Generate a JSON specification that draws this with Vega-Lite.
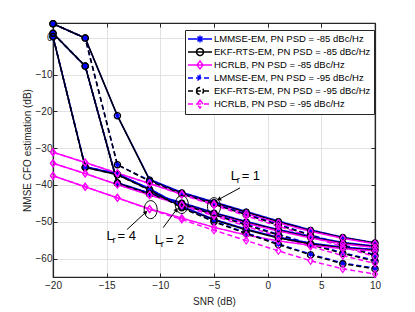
{
"$schema": "https://vega.github.io/schema/vega-lite/v6.json",
"width": 322, "height": 254,
"autosize": {"type": "none"},
"padding": {"left": 53, "top": 23, "right": 40, "bottom": 35},
"background": "white",
"config": {
  "view": {"stroke": "#262626", "strokeWidth": 1.2},
  "font": "Liberation Sans",
  "axis": {"domainColor": "#262626", "domainWidth": 1.2, "tickColor": "#262626", "tickSize": -4, "tickWidth": 1, "labelColor": "#262626", "labelFontSize": 10, "titleColor": "#262626", "titleFontSize": 10, "titleFontWeight": "normal", "gridColor": "#e2e2e2", "gridWidth": 1, "labelFlush": false}
},
"datasets": {
"series": [
{"s":"LMMSE-EM, PN PSD = -85 dBc/Hz","lr":1,"snr":-20,"nmse":3.8},{"s":"LMMSE-EM, PN PSD = -85 dBc/Hz","lr":1,"snr":-17,"nmse":-0.1},{"s":"LMMSE-EM, PN PSD = -85 dBc/Hz","lr":1,"snr":-14,"nmse":-21.2},{"s":"LMMSE-EM, PN PSD = -85 dBc/Hz","lr":1,"snr":-11,"nmse":-38.5},{"s":"LMMSE-EM, PN PSD = -85 dBc/Hz","lr":1,"snr":-8,"nmse":-42.0},{"s":"LMMSE-EM, PN PSD = -85 dBc/Hz","lr":1,"snr":-5,"nmse":-44.6},{"s":"LMMSE-EM, PN PSD = -85 dBc/Hz","lr":1,"snr":-2,"nmse":-47.2},{"s":"LMMSE-EM, PN PSD = -85 dBc/Hz","lr":1,"snr":1,"nmse":-49.8},{"s":"LMMSE-EM, PN PSD = -85 dBc/Hz","lr":1,"snr":4,"nmse":-52.2},{"s":"LMMSE-EM, PN PSD = -85 dBc/Hz","lr":1,"snr":7,"nmse":-54.2},{"s":"LMMSE-EM, PN PSD = -85 dBc/Hz","lr":1,"snr":10,"nmse":-55.7},
{"s":"EKF-RTS-EM, PN PSD = -85 dBc/Hz","lr":1,"snr":-20,"nmse":3.8},{"s":"EKF-RTS-EM, PN PSD = -85 dBc/Hz","lr":1,"snr":-17,"nmse":-0.1},{"s":"EKF-RTS-EM, PN PSD = -85 dBc/Hz","lr":1,"snr":-14,"nmse":-21.2},{"s":"EKF-RTS-EM, PN PSD = -85 dBc/Hz","lr":1,"snr":-11,"nmse":-38.7},{"s":"EKF-RTS-EM, PN PSD = -85 dBc/Hz","lr":1,"snr":-8,"nmse":-42.2},{"s":"EKF-RTS-EM, PN PSD = -85 dBc/Hz","lr":1,"snr":-5,"nmse":-44.8},{"s":"EKF-RTS-EM, PN PSD = -85 dBc/Hz","lr":1,"snr":-2,"nmse":-47.4},{"s":"EKF-RTS-EM, PN PSD = -85 dBc/Hz","lr":1,"snr":1,"nmse":-50.0},{"s":"EKF-RTS-EM, PN PSD = -85 dBc/Hz","lr":1,"snr":4,"nmse":-52.4},{"s":"EKF-RTS-EM, PN PSD = -85 dBc/Hz","lr":1,"snr":7,"nmse":-54.3},{"s":"EKF-RTS-EM, PN PSD = -85 dBc/Hz","lr":1,"snr":10,"nmse":-55.8},
{"s":"HCRLB, PN PSD = -85 dBc/Hz","lr":1,"snr":-20,"nmse":-31.1},{"s":"HCRLB, PN PSD = -85 dBc/Hz","lr":1,"snr":-17,"nmse":-33.9},{"s":"HCRLB, PN PSD = -85 dBc/Hz","lr":1,"snr":-14,"nmse":-36.8},{"s":"HCRLB, PN PSD = -85 dBc/Hz","lr":1,"snr":-11,"nmse":-39.6},{"s":"HCRLB, PN PSD = -85 dBc/Hz","lr":1,"snr":-8,"nmse":-42.5},{"s":"HCRLB, PN PSD = -85 dBc/Hz","lr":1,"snr":-5,"nmse":-45.2},{"s":"HCRLB, PN PSD = -85 dBc/Hz","lr":1,"snr":-2,"nmse":-47.8},{"s":"HCRLB, PN PSD = -85 dBc/Hz","lr":1,"snr":1,"nmse":-50.3},{"s":"HCRLB, PN PSD = -85 dBc/Hz","lr":1,"snr":4,"nmse":-52.6},{"s":"HCRLB, PN PSD = -85 dBc/Hz","lr":1,"snr":7,"nmse":-54.5},{"s":"HCRLB, PN PSD = -85 dBc/Hz","lr":1,"snr":10,"nmse":-56.0},
{"s":"LMMSE-EM, PN PSD = -95 dBc/Hz","lr":1,"snr":-20,"nmse":3.8},{"s":"LMMSE-EM, PN PSD = -95 dBc/Hz","lr":1,"snr":-17,"nmse":-0.1},{"s":"LMMSE-EM, PN PSD = -95 dBc/Hz","lr":1,"snr":-14,"nmse":-34.5},{"s":"LMMSE-EM, PN PSD = -95 dBc/Hz","lr":1,"snr":-11,"nmse":-38.8},{"s":"LMMSE-EM, PN PSD = -95 dBc/Hz","lr":1,"snr":-8,"nmse":-42.2},{"s":"LMMSE-EM, PN PSD = -95 dBc/Hz","lr":1,"snr":-5,"nmse":-45.0},{"s":"LMMSE-EM, PN PSD = -95 dBc/Hz","lr":1,"snr":-2,"nmse":-47.9},{"s":"LMMSE-EM, PN PSD = -95 dBc/Hz","lr":1,"snr":1,"nmse":-50.7},{"s":"LMMSE-EM, PN PSD = -95 dBc/Hz","lr":1,"snr":4,"nmse":-53.5},{"s":"LMMSE-EM, PN PSD = -95 dBc/Hz","lr":1,"snr":7,"nmse":-56.2},{"s":"LMMSE-EM, PN PSD = -95 dBc/Hz","lr":1,"snr":10,"nmse":-59.0},
{"s":"EKF-RTS-EM, PN PSD = -95 dBc/Hz","lr":1,"snr":-20,"nmse":3.8},{"s":"EKF-RTS-EM, PN PSD = -95 dBc/Hz","lr":1,"snr":-17,"nmse":-0.1},{"s":"EKF-RTS-EM, PN PSD = -95 dBc/Hz","lr":1,"snr":-14,"nmse":-34.5},{"s":"EKF-RTS-EM, PN PSD = -95 dBc/Hz","lr":1,"snr":-11,"nmse":-39.0},{"s":"EKF-RTS-EM, PN PSD = -95 dBc/Hz","lr":1,"snr":-8,"nmse":-42.4},{"s":"EKF-RTS-EM, PN PSD = -95 dBc/Hz","lr":1,"snr":-5,"nmse":-45.2},{"s":"EKF-RTS-EM, PN PSD = -95 dBc/Hz","lr":1,"snr":-2,"nmse":-48.1},{"s":"EKF-RTS-EM, PN PSD = -95 dBc/Hz","lr":1,"snr":1,"nmse":-50.9},{"s":"EKF-RTS-EM, PN PSD = -95 dBc/Hz","lr":1,"snr":4,"nmse":-53.7},{"s":"EKF-RTS-EM, PN PSD = -95 dBc/Hz","lr":1,"snr":7,"nmse":-56.4},{"s":"EKF-RTS-EM, PN PSD = -95 dBc/Hz","lr":1,"snr":10,"nmse":-59.2},
{"s":"HCRLB, PN PSD = -95 dBc/Hz","lr":1,"snr":-20,"nmse":-31.1},{"s":"HCRLB, PN PSD = -95 dBc/Hz","lr":1,"snr":-17,"nmse":-33.9},{"s":"HCRLB, PN PSD = -95 dBc/Hz","lr":1,"snr":-14,"nmse":-36.8},{"s":"HCRLB, PN PSD = -95 dBc/Hz","lr":1,"snr":-11,"nmse":-39.6},{"s":"HCRLB, PN PSD = -95 dBc/Hz","lr":1,"snr":-8,"nmse":-42.6},{"s":"HCRLB, PN PSD = -95 dBc/Hz","lr":1,"snr":-5,"nmse":-45.5},{"s":"HCRLB, PN PSD = -95 dBc/Hz","lr":1,"snr":-2,"nmse":-48.4},{"s":"HCRLB, PN PSD = -95 dBc/Hz","lr":1,"snr":1,"nmse":-51.2},{"s":"HCRLB, PN PSD = -95 dBc/Hz","lr":1,"snr":4,"nmse":-54.0},{"s":"HCRLB, PN PSD = -95 dBc/Hz","lr":1,"snr":7,"nmse":-56.8},{"s":"HCRLB, PN PSD = -95 dBc/Hz","lr":1,"snr":10,"nmse":-59.5},
{"s":"LMMSE-EM, PN PSD = -85 dBc/Hz","lr":2,"snr":-20,"nmse":1.2},{"s":"LMMSE-EM, PN PSD = -85 dBc/Hz","lr":2,"snr":-17,"nmse":-7.7},{"s":"LMMSE-EM, PN PSD = -85 dBc/Hz","lr":2,"snr":-14,"nmse":-39.4},{"s":"LMMSE-EM, PN PSD = -85 dBc/Hz","lr":2,"snr":-11,"nmse":-42.2},{"s":"LMMSE-EM, PN PSD = -85 dBc/Hz","lr":2,"snr":-8,"nmse":-44.8},{"s":"LMMSE-EM, PN PSD = -85 dBc/Hz","lr":2,"snr":-5,"nmse":-47.5},{"s":"LMMSE-EM, PN PSD = -85 dBc/Hz","lr":2,"snr":-2,"nmse":-49.9},{"s":"LMMSE-EM, PN PSD = -85 dBc/Hz","lr":2,"snr":1,"nmse":-52.1},{"s":"LMMSE-EM, PN PSD = -85 dBc/Hz","lr":2,"snr":4,"nmse":-54.0},{"s":"LMMSE-EM, PN PSD = -85 dBc/Hz","lr":2,"snr":7,"nmse":-55.6},{"s":"LMMSE-EM, PN PSD = -85 dBc/Hz","lr":2,"snr":10,"nmse":-56.6},
{"s":"EKF-RTS-EM, PN PSD = -85 dBc/Hz","lr":2,"snr":-20,"nmse":1.2},{"s":"EKF-RTS-EM, PN PSD = -85 dBc/Hz","lr":2,"snr":-17,"nmse":-7.7},{"s":"EKF-RTS-EM, PN PSD = -85 dBc/Hz","lr":2,"snr":-14,"nmse":-39.5},{"s":"EKF-RTS-EM, PN PSD = -85 dBc/Hz","lr":2,"snr":-11,"nmse":-42.4},{"s":"EKF-RTS-EM, PN PSD = -85 dBc/Hz","lr":2,"snr":-8,"nmse":-45.0},{"s":"EKF-RTS-EM, PN PSD = -85 dBc/Hz","lr":2,"snr":-5,"nmse":-47.7},{"s":"EKF-RTS-EM, PN PSD = -85 dBc/Hz","lr":2,"snr":-2,"nmse":-50.1},{"s":"EKF-RTS-EM, PN PSD = -85 dBc/Hz","lr":2,"snr":1,"nmse":-52.3},{"s":"EKF-RTS-EM, PN PSD = -85 dBc/Hz","lr":2,"snr":4,"nmse":-54.2},{"s":"EKF-RTS-EM, PN PSD = -85 dBc/Hz","lr":2,"snr":7,"nmse":-55.8},{"s":"EKF-RTS-EM, PN PSD = -85 dBc/Hz","lr":2,"snr":10,"nmse":-56.8},
{"s":"HCRLB, PN PSD = -85 dBc/Hz","lr":2,"snr":-20,"nmse":-34.1},{"s":"HCRLB, PN PSD = -85 dBc/Hz","lr":2,"snr":-17,"nmse":-36.9},{"s":"HCRLB, PN PSD = -85 dBc/Hz","lr":2,"snr":-14,"nmse":-39.9},{"s":"HCRLB, PN PSD = -85 dBc/Hz","lr":2,"snr":-11,"nmse":-42.7},{"s":"HCRLB, PN PSD = -85 dBc/Hz","lr":2,"snr":-8,"nmse":-45.4},{"s":"HCRLB, PN PSD = -85 dBc/Hz","lr":2,"snr":-5,"nmse":-48.0},{"s":"HCRLB, PN PSD = -85 dBc/Hz","lr":2,"snr":-2,"nmse":-50.4},{"s":"HCRLB, PN PSD = -85 dBc/Hz","lr":2,"snr":1,"nmse":-52.5},{"s":"HCRLB, PN PSD = -85 dBc/Hz","lr":2,"snr":4,"nmse":-54.4},{"s":"HCRLB, PN PSD = -85 dBc/Hz","lr":2,"snr":7,"nmse":-56.0},{"s":"HCRLB, PN PSD = -85 dBc/Hz","lr":2,"snr":10,"nmse":-57.0},
{"s":"LMMSE-EM, PN PSD = -95 dBc/Hz","lr":2,"snr":-20,"nmse":1.2},{"s":"LMMSE-EM, PN PSD = -95 dBc/Hz","lr":2,"snr":-17,"nmse":-7.7},{"s":"LMMSE-EM, PN PSD = -95 dBc/Hz","lr":2,"snr":-14,"nmse":-39.4},{"s":"LMMSE-EM, PN PSD = -95 dBc/Hz","lr":2,"snr":-11,"nmse":-42.3},{"s":"LMMSE-EM, PN PSD = -95 dBc/Hz","lr":2,"snr":-8,"nmse":-45.0},{"s":"LMMSE-EM, PN PSD = -95 dBc/Hz","lr":2,"snr":-5,"nmse":-47.9},{"s":"LMMSE-EM, PN PSD = -95 dBc/Hz","lr":2,"snr":-2,"nmse":-50.7},{"s":"LMMSE-EM, PN PSD = -95 dBc/Hz","lr":2,"snr":1,"nmse":-53.4},{"s":"LMMSE-EM, PN PSD = -95 dBc/Hz","lr":2,"snr":4,"nmse":-56.0},{"s":"LMMSE-EM, PN PSD = -95 dBc/Hz","lr":2,"snr":7,"nmse":-58.4},{"s":"LMMSE-EM, PN PSD = -95 dBc/Hz","lr":2,"snr":10,"nmse":-60.5},
{"s":"EKF-RTS-EM, PN PSD = -95 dBc/Hz","lr":2,"snr":-20,"nmse":1.2},{"s":"EKF-RTS-EM, PN PSD = -95 dBc/Hz","lr":2,"snr":-17,"nmse":-7.7},{"s":"EKF-RTS-EM, PN PSD = -95 dBc/Hz","lr":2,"snr":-14,"nmse":-39.5},{"s":"EKF-RTS-EM, PN PSD = -95 dBc/Hz","lr":2,"snr":-11,"nmse":-42.5},{"s":"EKF-RTS-EM, PN PSD = -95 dBc/Hz","lr":2,"snr":-8,"nmse":-45.2},{"s":"EKF-RTS-EM, PN PSD = -95 dBc/Hz","lr":2,"snr":-5,"nmse":-48.1},{"s":"EKF-RTS-EM, PN PSD = -95 dBc/Hz","lr":2,"snr":-2,"nmse":-50.9},{"s":"EKF-RTS-EM, PN PSD = -95 dBc/Hz","lr":2,"snr":1,"nmse":-53.6},{"s":"EKF-RTS-EM, PN PSD = -95 dBc/Hz","lr":2,"snr":4,"nmse":-56.2},{"s":"EKF-RTS-EM, PN PSD = -95 dBc/Hz","lr":2,"snr":7,"nmse":-58.6},{"s":"EKF-RTS-EM, PN PSD = -95 dBc/Hz","lr":2,"snr":10,"nmse":-60.7},
{"s":"HCRLB, PN PSD = -95 dBc/Hz","lr":2,"snr":-20,"nmse":-34.1},{"s":"HCRLB, PN PSD = -95 dBc/Hz","lr":2,"snr":-17,"nmse":-36.9},{"s":"HCRLB, PN PSD = -95 dBc/Hz","lr":2,"snr":-14,"nmse":-39.9},{"s":"HCRLB, PN PSD = -95 dBc/Hz","lr":2,"snr":-11,"nmse":-42.7},{"s":"HCRLB, PN PSD = -95 dBc/Hz","lr":2,"snr":-8,"nmse":-45.5},{"s":"HCRLB, PN PSD = -95 dBc/Hz","lr":2,"snr":-5,"nmse":-48.4},{"s":"HCRLB, PN PSD = -95 dBc/Hz","lr":2,"snr":-2,"nmse":-51.2},{"s":"HCRLB, PN PSD = -95 dBc/Hz","lr":2,"snr":1,"nmse":-54.0},{"s":"HCRLB, PN PSD = -95 dBc/Hz","lr":2,"snr":4,"nmse":-56.7},{"s":"HCRLB, PN PSD = -95 dBc/Hz","lr":2,"snr":7,"nmse":-59.2},{"s":"HCRLB, PN PSD = -95 dBc/Hz","lr":2,"snr":10,"nmse":-61.3},
{"s":"LMMSE-EM, PN PSD = -85 dBc/Hz","lr":4,"snr":-20,"nmse":0.3},{"s":"LMMSE-EM, PN PSD = -85 dBc/Hz","lr":4,"snr":-17,"nmse":-35.0},{"s":"LMMSE-EM, PN PSD = -85 dBc/Hz","lr":4,"snr":-14,"nmse":-37.0},{"s":"LMMSE-EM, PN PSD = -85 dBc/Hz","lr":4,"snr":-11,"nmse":-41.0},{"s":"LMMSE-EM, PN PSD = -85 dBc/Hz","lr":4,"snr":-8,"nmse":-45.8},{"s":"LMMSE-EM, PN PSD = -85 dBc/Hz","lr":4,"snr":-5,"nmse":-49.3},{"s":"LMMSE-EM, PN PSD = -85 dBc/Hz","lr":4,"snr":-2,"nmse":-52.0},{"s":"LMMSE-EM, PN PSD = -85 dBc/Hz","lr":4,"snr":1,"nmse":-54.2},{"s":"LMMSE-EM, PN PSD = -85 dBc/Hz","lr":4,"snr":4,"nmse":-55.8},{"s":"LMMSE-EM, PN PSD = -85 dBc/Hz","lr":4,"snr":7,"nmse":-56.9},{"s":"LMMSE-EM, PN PSD = -85 dBc/Hz","lr":4,"snr":10,"nmse":-57.5},
{"s":"EKF-RTS-EM, PN PSD = -85 dBc/Hz","lr":4,"snr":-20,"nmse":0.3},{"s":"EKF-RTS-EM, PN PSD = -85 dBc/Hz","lr":4,"snr":-17,"nmse":-35.2},{"s":"EKF-RTS-EM, PN PSD = -85 dBc/Hz","lr":4,"snr":-14,"nmse":-37.2},{"s":"EKF-RTS-EM, PN PSD = -85 dBc/Hz","lr":4,"snr":-11,"nmse":-41.3},{"s":"EKF-RTS-EM, PN PSD = -85 dBc/Hz","lr":4,"snr":-8,"nmse":-46.0},{"s":"EKF-RTS-EM, PN PSD = -85 dBc/Hz","lr":4,"snr":-5,"nmse":-49.5},{"s":"EKF-RTS-EM, PN PSD = -85 dBc/Hz","lr":4,"snr":-2,"nmse":-52.2},{"s":"EKF-RTS-EM, PN PSD = -85 dBc/Hz","lr":4,"snr":1,"nmse":-54.4},{"s":"EKF-RTS-EM, PN PSD = -85 dBc/Hz","lr":4,"snr":4,"nmse":-56.0},{"s":"EKF-RTS-EM, PN PSD = -85 dBc/Hz","lr":4,"snr":7,"nmse":-57.1},{"s":"EKF-RTS-EM, PN PSD = -85 dBc/Hz","lr":4,"snr":10,"nmse":-57.7},
{"s":"HCRLB, PN PSD = -85 dBc/Hz","lr":4,"snr":-20,"nmse":-37.5},{"s":"HCRLB, PN PSD = -85 dBc/Hz","lr":4,"snr":-17,"nmse":-40.5},{"s":"HCRLB, PN PSD = -85 dBc/Hz","lr":4,"snr":-14,"nmse":-43.5},{"s":"HCRLB, PN PSD = -85 dBc/Hz","lr":4,"snr":-11,"nmse":-46.5},{"s":"HCRLB, PN PSD = -85 dBc/Hz","lr":4,"snr":-8,"nmse":-49.0},{"s":"HCRLB, PN PSD = -85 dBc/Hz","lr":4,"snr":-5,"nmse":-51.5},{"s":"HCRLB, PN PSD = -85 dBc/Hz","lr":4,"snr":-2,"nmse":-53.6},{"s":"HCRLB, PN PSD = -85 dBc/Hz","lr":4,"snr":1,"nmse":-55.2},{"s":"HCRLB, PN PSD = -85 dBc/Hz","lr":4,"snr":4,"nmse":-56.4},{"s":"HCRLB, PN PSD = -85 dBc/Hz","lr":4,"snr":7,"nmse":-57.3},{"s":"HCRLB, PN PSD = -85 dBc/Hz","lr":4,"snr":10,"nmse":-57.9},
{"s":"LMMSE-EM, PN PSD = -95 dBc/Hz","lr":4,"snr":-20,"nmse":0.3},{"s":"LMMSE-EM, PN PSD = -95 dBc/Hz","lr":4,"snr":-17,"nmse":-35.0},{"s":"LMMSE-EM, PN PSD = -95 dBc/Hz","lr":4,"snr":-14,"nmse":-37.0},{"s":"LMMSE-EM, PN PSD = -95 dBc/Hz","lr":4,"snr":-11,"nmse":-41.1},{"s":"LMMSE-EM, PN PSD = -95 dBc/Hz","lr":4,"snr":-8,"nmse":-46.0},{"s":"LMMSE-EM, PN PSD = -95 dBc/Hz","lr":4,"snr":-5,"nmse":-49.8},{"s":"LMMSE-EM, PN PSD = -95 dBc/Hz","lr":4,"snr":-2,"nmse":-53.0},{"s":"LMMSE-EM, PN PSD = -95 dBc/Hz","lr":4,"snr":1,"nmse":-56.0},{"s":"LMMSE-EM, PN PSD = -95 dBc/Hz","lr":4,"snr":4,"nmse":-58.8},{"s":"LMMSE-EM, PN PSD = -95 dBc/Hz","lr":4,"snr":7,"nmse":-61.2},{"s":"LMMSE-EM, PN PSD = -95 dBc/Hz","lr":4,"snr":10,"nmse":-62.6},
{"s":"EKF-RTS-EM, PN PSD = -95 dBc/Hz","lr":4,"snr":-20,"nmse":0.3},{"s":"EKF-RTS-EM, PN PSD = -95 dBc/Hz","lr":4,"snr":-17,"nmse":-35.2},{"s":"EKF-RTS-EM, PN PSD = -95 dBc/Hz","lr":4,"snr":-14,"nmse":-37.2},{"s":"EKF-RTS-EM, PN PSD = -95 dBc/Hz","lr":4,"snr":-11,"nmse":-41.4},{"s":"EKF-RTS-EM, PN PSD = -95 dBc/Hz","lr":4,"snr":-8,"nmse":-46.2},{"s":"EKF-RTS-EM, PN PSD = -95 dBc/Hz","lr":4,"snr":-5,"nmse":-50.0},{"s":"EKF-RTS-EM, PN PSD = -95 dBc/Hz","lr":4,"snr":-2,"nmse":-53.2},{"s":"EKF-RTS-EM, PN PSD = -95 dBc/Hz","lr":4,"snr":1,"nmse":-56.2},{"s":"EKF-RTS-EM, PN PSD = -95 dBc/Hz","lr":4,"snr":4,"nmse":-59.0},{"s":"EKF-RTS-EM, PN PSD = -95 dBc/Hz","lr":4,"snr":7,"nmse":-61.4},{"s":"EKF-RTS-EM, PN PSD = -95 dBc/Hz","lr":4,"snr":10,"nmse":-62.8},
{"s":"HCRLB, PN PSD = -95 dBc/Hz","lr":4,"snr":-20,"nmse":-37.5},{"s":"HCRLB, PN PSD = -95 dBc/Hz","lr":4,"snr":-17,"nmse":-40.5},{"s":"HCRLB, PN PSD = -95 dBc/Hz","lr":4,"snr":-14,"nmse":-43.5},{"s":"HCRLB, PN PSD = -95 dBc/Hz","lr":4,"snr":-11,"nmse":-46.6},{"s":"HCRLB, PN PSD = -95 dBc/Hz","lr":4,"snr":-8,"nmse":-49.4},{"s":"HCRLB, PN PSD = -95 dBc/Hz","lr":4,"snr":-5,"nmse":-52.3},{"s":"HCRLB, PN PSD = -95 dBc/Hz","lr":4,"snr":-2,"nmse":-55.1},{"s":"HCRLB, PN PSD = -95 dBc/Hz","lr":4,"snr":1,"nmse":-57.9},{"s":"HCRLB, PN PSD = -95 dBc/Hz","lr":4,"snr":4,"nmse":-60.6},{"s":"HCRLB, PN PSD = -95 dBc/Hz","lr":4,"snr":7,"nmse":-62.8},{"s":"HCRLB, PN PSD = -95 dBc/Hz","lr":4,"snr":10,"nmse":-64.2}
],
"ellipses": [{"lr":1,"snr":-5,"nmse":-45.9},{"lr":2,"snr":-8,"nmse":-45.3},{"lr":4,"snr":-10.9,"nmse":-46.7}],
"arrows": [{"lr":1,"x1":-2.58,"y1":-40.8,"x2":-4.54,"y2":-43.9},{"lr":2,"x1":-9.74,"y1":-51.6,"x2":-8.49,"y2":-46.7},{"lr":4,"x1":-13.1,"y1":-52.1,"x2":-11.35,"y2":-47.4}],
"labels": [{"lr":1,"snr":-3.45,"nmse":-38.7,"sub":"r","eq":"= 1"},{"lr":2,"snr":-10.51,"nmse":-55.9,"sub":"r","eq":"= 2"},{"lr":4,"snr":-15.02,"nmse":-55.0,"sub":"r","eq":"= 4"}]
},
"layer": [
{
  "data": {"name": "series"},
  "mark": {"type": "line", "strokeWidth": 1.5},
  "encoding": {
    "x": {"field": "snr", "type": "quantitative", "scale": {"domain": [-20, 10], "nice": false, "zero": false},
          "axis": {"values": [-20,-15,-10,-5,0,5,10], "title": "SNR (dB)", "grid": true, "labelPadding": 7, "titlePadding": 6}},
    "y": {"field": "nmse", "type": "quantitative", "scale": {"domain": [-65, 4], "nice": false, "zero": false},
          "axis": {"values": [-60,-50,-40,-30,-20,-10,0], "title": "NMSE CFO estimation (dB)", "grid": true, "labelPadding": 5, "titlePadding": 3}},
    "color": {"field": "s", "type": "nominal",
      "scale": {"domain": ["LMMSE-EM, PN PSD = -85 dBc/Hz","EKF-RTS-EM, PN PSD = -85 dBc/Hz","HCRLB, PN PSD = -85 dBc/Hz","LMMSE-EM, PN PSD = -95 dBc/Hz","EKF-RTS-EM, PN PSD = -95 dBc/Hz","HCRLB, PN PSD = -95 dBc/Hz"],
                "range": ["#0000ff","#000000","#ff00ff","#0000ff","#000000","#ff00ff"]},
      "legend": {"title": null, "orient": "none", "legendX": 132, "legendY": 7, "padding": 3, "fillColor": "white", "strokeColor": "#262626",
                 "symbolSize": 100, "symbolOffset": 6, "labelOffset": 8, "labelFontSize": 9.5, "labelColor": "#000000", "labelLimit": 300, "rowPadding": -2.5, "symbolStrokeWidth": 1.5,
                 "encode": {"symbols": {"update": {
                   "shape": {"signal": "indexof(datum.value,'LMMSE')===0 ? 'M-2.4,0L2.4,0M0,-0.7L0,0.7M-0.5,-0.5L0.5,0.5M-0.5,0.5L0.5,-0.5' : indexof(datum.value,'EKF')===0 ? 'M-2.4,0L2.4,0M-0.7,0A0.7,0.7 0 1,0 0.7,0A0.7,0.7 0 1,0 -0.7,0' : 'M-2.4,0L2.4,0M0,-0.8L0.6,0L0,0.8L-0.6,0Z'"},
                   "fill": {"value": "transparent"},
                   "strokeWidth": {"value": 1.5}}}}}},
    "strokeDash": {"field": "s", "type": "nominal",
      "scale": {"domain": ["LMMSE-EM, PN PSD = -85 dBc/Hz","EKF-RTS-EM, PN PSD = -85 dBc/Hz","HCRLB, PN PSD = -85 dBc/Hz","LMMSE-EM, PN PSD = -95 dBc/Hz","EKF-RTS-EM, PN PSD = -95 dBc/Hz","HCRLB, PN PSD = -95 dBc/Hz"],
                "range": [[1,0],[1,0],[1,0],[5,3],[5,3],[5,3]]}},
    "detail": {"field": "lr", "type": "nominal"}
  }
},
{
  "data": {"name": "series"},
  "transform": [{"filter": "indexof(datum.s, 'LMMSE') === 0"}],
  "mark": {"type": "point", "filled": false, "strokeWidth": 1.2, "size": 40, "opacity": 1, "shape": "M-1,0L1,0M0,-1L0,1M-0.7,-0.7L0.7,0.7M-0.7,0.7L0.7,-0.7"},
  "encoding": {
    "x": {"field": "snr", "type": "quantitative", "axis": null},
    "y": {"field": "nmse", "type": "quantitative", "axis": null},
    "color": {"field": "s", "type": "nominal", "legend": null}
  }
},
{
  "data": {"name": "series"},
  "transform": [{"filter": "indexof(datum.s, 'EKF') === 0"}],
  "mark": {"type": "point", "filled": false, "strokeWidth": 1.2, "size": 40, "opacity": 1, "shape": "circle"},
  "encoding": {
    "x": {"field": "snr", "type": "quantitative", "axis": null},
    "y": {"field": "nmse", "type": "quantitative", "axis": null},
    "color": {"field": "s", "type": "nominal", "legend": null}
  }
},
{
  "data": {"name": "series"},
  "transform": [{"filter": "indexof(datum.s, 'HCRLB') === 0"}],
  "mark": {"type": "point", "filled": false, "strokeWidth": 1.2, "size": 40, "opacity": 1, "shape": "M0,-1.1L0.8,0L0,1.1L-0.8,0Z"},
  "encoding": {
    "x": {"field": "snr", "type": "quantitative", "axis": null},
    "y": {"field": "nmse", "type": "quantitative", "axis": null},
    "color": {"field": "s", "type": "nominal", "legend": null}
  }
},
{
  "data": {"name": "ellipses"},
  "mark": {"type": "point", "shape": "M-0.72,0A0.72,1 0 1,1 0.72,0A0.72,1 0 1,1 -0.72,0Z", "size": 324, "filled": false, "stroke": "#000000", "strokeWidth": 1, "opacity": 1},
  "encoding": {
    "x": {"field": "snr", "type": "quantitative", "axis": null},
    "y": {"field": "nmse", "type": "quantitative", "axis": null}
  }
},
{
  "data": {"name": "arrows"},
  "mark": {"type": "rule", "color": "#000000", "strokeWidth": 1},
  "encoding": {
    "x": {"field": "x1", "type": "quantitative", "axis": null},
    "y": {"field": "y1", "type": "quantitative", "axis": null},
    "x2": {"field": "x2"},
    "y2": {"field": "y2"}
  }
},
{
  "data": {"name": "arrows"},
  "transform": [{"filter": "datum.lr === 1"}],
  "mark": {"type": "point", "shape": "triangle-up", "filled": true, "color": "#000000", "size": 22, "angle": 241, "opacity": 1},
  "encoding": {
    "x": {"field": "x2", "type": "quantitative", "axis": null},
    "y": {"field": "y2", "type": "quantitative", "axis": null}
  }
},
{
  "data": {"name": "arrows"},
  "transform": [{"filter": "datum.lr === 2"}],
  "mark": {"type": "point", "shape": "triangle-up", "filled": true, "color": "#000000", "size": 22, "angle": 36, "opacity": 1},
  "encoding": {
    "x": {"field": "x2", "type": "quantitative", "axis": null},
    "y": {"field": "y2", "type": "quantitative", "axis": null}
  }
},
{
  "data": {"name": "arrows"},
  "transform": [{"filter": "datum.lr === 4"}],
  "mark": {"type": "point", "shape": "triangle-up", "filled": true, "color": "#000000", "size": 22, "angle": 47, "opacity": 1},
  "encoding": {
    "x": {"field": "x2", "type": "quantitative", "axis": null},
    "y": {"field": "y2", "type": "quantitative", "axis": null}
  }
},
{
  "data": {"name": "labels"},
  "mark": {"type": "text", "align": "left", "baseline": "alphabetic", "fontSize": 13, "color": "#000000"},
  "encoding": {
    "x": {"field": "snr", "type": "quantitative", "axis": null},
    "y": {"field": "nmse", "type": "quantitative", "axis": null},
    "text": {"value": "L"}
  }
},
{
  "data": {"name": "labels"},
  "mark": {"type": "text", "align": "left", "baseline": "alphabetic", "fontSize": 9.5, "dx": 6, "dy": 3, "color": "#000000"},
  "encoding": {
    "x": {"field": "snr", "type": "quantitative", "axis": null},
    "y": {"field": "nmse", "type": "quantitative", "axis": null},
    "text": {"field": "sub"}
  }
},
{
  "data": {"name": "labels"},
  "mark": {"type": "text", "align": "left", "baseline": "alphabetic", "fontSize": 13, "dx": 11, "color": "#000000"},
  "encoding": {
    "x": {"field": "snr", "type": "quantitative", "axis": null},
    "y": {"field": "nmse", "type": "quantitative", "axis": null},
    "text": {"field": "eq"}
  }
},
{
  "data": {"name": "ellipses"},
  "mark": {"type": "point", "opacity": 0},
  "encoding": {
    "x": {"field": "snr", "type": "quantitative", "axis": {"orient": "top", "values": [-20,-15,-10,-5,0,5,10], "labels": false, "title": null, "grid": false}},
    "y": {"field": "nmse", "type": "quantitative", "axis": {"orient": "right", "values": [-60,-50,-40,-30,-20,-10,0], "labels": false, "title": null, "grid": false}}
  }
}
],
"resolve": {"axis": {"x": "independent", "y": "independent"}}
}
